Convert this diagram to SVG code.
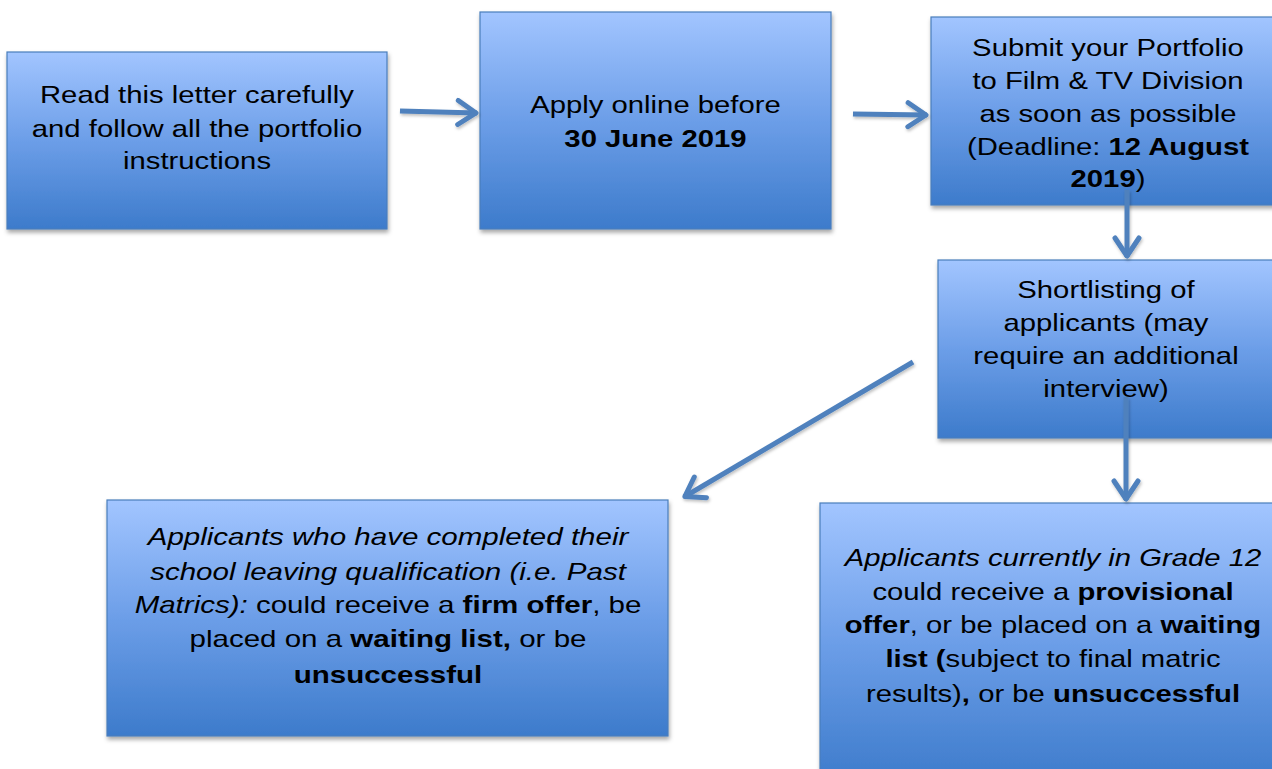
<svg xmlns="http://www.w3.org/2000/svg" width="1272" height="769" viewBox="0 0 1272 769">
<style>
.box{fill:url(#g);stroke:#4a7ebb;stroke-width:1.2;filter:url(#sh)}
.t{font-family:"Liberation Sans",Arial,sans-serif;font-size:24px;fill:#000;text-anchor:middle}
.b{font-weight:bold}
.i{font-style:italic}
.c{fill:none;stroke:#4f81bd;stroke-width:5}
</style>
<defs>
<linearGradient id="g" x1="0" y1="0" x2="0" y2="1">
<stop offset="0" stop-color="#a2c5ff"/>
<stop offset="0.5" stop-color="#6c9ee8"/>
<stop offset="1" stop-color="#3d7bcb"/>
</linearGradient>
<filter id="sh" x="-5%" y="-5%" width="115%" height="120%">
<feDropShadow dx="1" dy="3" stdDeviation="2" flood-color="#000" flood-opacity="0.35"/>
</filter>
<filter id="sh2" filterUnits="userSpaceOnUse" x="0" y="0" width="1272" height="769">
<feDropShadow dx="1" dy="2" stdDeviation="1.5" flood-color="#000" flood-opacity="0.25"/>
</filter>
<marker id="ah" markerUnits="userSpaceOnUse" markerWidth="30" markerHeight="30" viewBox="0 0 30 30" refX="25" refY="15" orient="auto">
<path d="M6,3 L24,15 L6,27" fill="none" stroke="#4f81bd" stroke-width="5" stroke-linecap="round" stroke-linejoin="round"/>
</marker>
</defs>

<g id="node1">
<rect class="box" x="7" y="52" width="380" height="177"/>
<g transform="matrix(1.22,0,0,1,-43.34,0)">
<text class="t" x="197" y="103">Read this letter carefully</text>
<text class="t" x="197" y="137">and follow all the portfolio</text>
<text class="t" x="197" y="169">instructions</text>
</g>
</g>

<g id="node2">
<rect class="box" x="480" y="12" width="351" height="217"/>
<g transform="matrix(1.22,0,0,1,-144.21,0)">
<text class="t" x="655.5" y="113">Apply online before</text>
<text class="t b" x="655.5" y="147">30 June 2019</text>
</g>
</g>

<g id="node3">
<rect class="box" x="931" y="17" width="354" height="188"/>
<g transform="matrix(1.22,0,0,1,-243.76,0)">
<text class="t" x="1108" y="56">Submit your Portfolio</text>
<text class="t" x="1108" y="89">to Film &amp; TV Division</text>
<text class="t" x="1108" y="122">as soon as possible</text>
<text class="t" x="1108" y="155">(Deadline: <tspan class="b">12 August</tspan></text>
<text class="t" x="1108" y="187"><tspan class="b">2019</tspan>)</text>
</g>
</g>

<g id="node4">
<rect class="box" x="938" y="260" width="336" height="178"/>
<g transform="matrix(1.22,0,0,1,-243.32,0)">
<text class="t" x="1106" y="298">Shortlisting of</text>
<text class="t" x="1106" y="331">applicants (may</text>
<text class="t" x="1106" y="364">require an additional</text>
<text class="t" x="1106" y="397">interview)</text>
</g>
</g>

<g id="node5">
<rect class="box" x="107" y="500" width="561" height="236"/>
<g transform="matrix(1.23,0,0,1,-89.24,0)">
<text class="t i" x="388" y="545">Applicants who have completed their</text>
<text class="t i" x="388" y="580">school leaving qualification (i.e. Past</text>
<text class="t" x="388" y="613"><tspan class="i">Matrics):</tspan> could receive a <tspan class="b">firm offer</tspan>, be</text>
<text class="t" x="388" y="647">placed on a <tspan class="b">waiting list,</tspan> or be</text>
<text class="t b" x="388" y="683">unsuccessful</text>
</g>
</g>

<g id="node6">
<rect class="box" x="820" y="503" width="466" height="280"/>
<g transform="matrix(1.22,0,0,1,-231.66,0)">
<text class="t i" x="1053" y="566">Applicants currently in Grade 12</text>
<text class="t" x="1053" y="600">could receive a <tspan class="b">provisional</tspan></text>
<text class="t" x="1053" y="633"><tspan class="b">offer</tspan>, or be placed on a <tspan class="b">waiting</tspan></text>
<text class="t" x="1053" y="667"><tspan class="b">list (</tspan>subject to final matric</text>
<text class="t" x="1053" y="702">results)<tspan class="b">,</tspan> or be <tspan class="b">unsuccessful</tspan></text>
</g>
</g>

<g id="connectors" filter="url(#sh2)">
<line class="c" x1="400" y1="111" x2="477" y2="113" marker-end="url(#ah)"/>
<line class="c" x1="853" y1="114" x2="927" y2="115" marker-end="url(#ah)"/>
<line class="c" x1="1127" y1="190" x2="1127" y2="257" marker-end="url(#ah)"/>
<line class="c" x1="913" y1="362" x2="684" y2="497" marker-end="url(#ah)"/>
<line class="c" x1="1126" y1="397" x2="1126" y2="500" marker-end="url(#ah)"/>
</g>
</svg>
